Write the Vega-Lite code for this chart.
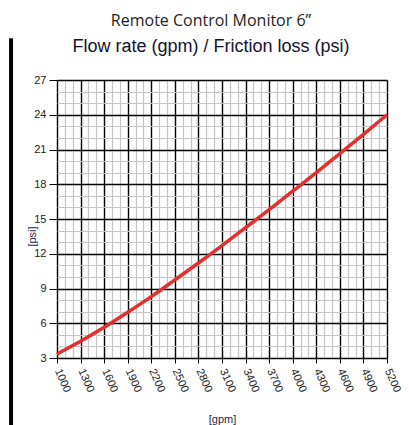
{
  "$schema": "https://vega.github.io/schema/vega-lite/v6.json",
  "width": 330,
  "height": 278,
  "autosize": {"type": "none"},
  "padding": {"left": 57, "top": 80, "right": 22, "bottom": 67},
  "background": "white",
  "config": {
    "view": {"stroke": null},
    "axis": {
      "labelFont": "Liberation Sans",
      "labelFontSize": 11,
      "labelColor": "#222",
      "titleFont": "Liberation Sans",
      "titleFontSize": 11,
      "titleFontWeight": "normal",
      "titleColor": "#1f2a44",
      "domain": false,
      "grid": true
    }
  },
  "title": {
    "text": "Remote Control Monitor 6”",
    "subtitle": "Flow rate (gpm) / Friction loss (psi)",
    "anchor": "middle",
    "dx": -11,
    "offset": -20,
    "font": "Open Sans",
    "fontSize": 16,
    "fontWeight": "normal",
    "color": "#1e1e1e",
    "subtitleFont": "Liberation Sans",
    "subtitleFontSize": 18,
    "subtitleColor": "#14142a",
    "subtitlePadding": 9
  },
  "data": {
    "values": [
      {"gpm": 1000, "psi": 3.35},
      {"gpm": 1300, "psi": 4.45},
      {"gpm": 1600, "psi": 5.65},
      {"gpm": 1900, "psi": 6.95},
      {"gpm": 2200, "psi": 8.3},
      {"gpm": 2500, "psi": 9.75},
      {"gpm": 2800, "psi": 11.2},
      {"gpm": 3100, "psi": 12.7},
      {"gpm": 3400, "psi": 14.25},
      {"gpm": 3700, "psi": 15.8},
      {"gpm": 4000, "psi": 17.4},
      {"gpm": 4300, "psi": 19.0},
      {"gpm": 4600, "psi": 20.65},
      {"gpm": 4900, "psi": 22.3},
      {"gpm": 5200, "psi": 24.0}
    ]
  },
  "layer": [
    {
      "mark": {
        "type": "line",
        "color": "#e3302f",
        "strokeWidth": 3.5,
        "interpolate": "monotone"
      },
      "encoding": {
        "x": {
          "field": "gpm",
          "type": "quantitative",
          "scale": {"domain": [1000, 5200], "nice": false, "zero": false},
          "axis": {
            "title": "[gpm]",
            "values": [1000,1100,1200,1300,1400,1500,1600,1700,1800,1900,2000,2100,2200,2300,2400,2500,2600,2700,2800,2900,3000,3100,3200,3300,3400,3500,3600,3700,3800,3900,4000,4100,4200,4300,4400,4500,4600,4700,4800,4900,5000,5100,5200],
            "tickCount": 100,
            "labelExpr": "datum.value % 300 === 100 ? datum.value : ''",
            "labelAngle": 66,
            "labelAlign": "left",
            "labelBaseline": "middle",
            "labelPadding": 6,
            "labelOverlap": false,
            "labelFlush": false,
            "tickSize": 5,
            "tickColor": {"condition": {"test": "datum.value % 300 === 100", "value": "#000"}, "value": "transparent"},
            "gridColor": {"condition": {"test": "datum.value % 300 === 100", "value": "#000"}, "value": "#c4c4c4"},
            "gridWidth": {"condition": {"test": "datum.value % 300 === 100", "value": 1.4}, "value": 1.2},
            "gridOpacity": 1,
            "titleY": 64,
            "titleBaseline": "alphabetic"
          }
        },
        "y": {
          "field": "psi",
          "type": "quantitative",
          "scale": {"domain": [3, 27], "nice": false, "zero": false},
          "axis": {
            "title": "[psi]",
            "values": [3,4,5,6,7,8,9,10,11,12,13,14,15,16,17,18,19,20,21,22,23,24,25,26,27],
            "tickCount": 100,
            "labelExpr": "datum.value % 3 === 0 ? datum.value : ''",
            "labelPadding": 3,
            "labelFlush": false,
            "labelOverlap": false,
            "tickSize": 8,
            "tickColor": {"condition": {"test": "datum.value % 3 === 0", "value": "#000"}, "value": "transparent"},
            "gridColor": {"condition": {"test": "datum.value % 3 === 0", "value": "#000"}, "value": "#c4c4c4"},
            "gridWidth": {"condition": {"test": "datum.value % 3 === 0", "value": 1.4}, "value": 1.2},
            "gridOpacity": 1,
            "titleX": -25,
            "titleY": 156,
            "titleAngle": -90,
            "titleAlign": "center",
            "titleBaseline": "middle"
          }
        }
      }
    },
    {
      "data": {"values": [{}]},
      "mark": {"type": "rule", "color": "#000", "strokeWidth": 4},
      "encoding": {
        "x": {"datum": 415, "type": "quantitative"},
        "y": {"datum": 30.6, "type": "quantitative"},
        "y2": {"datum": -2.8}
      }
    }
  ]
}
